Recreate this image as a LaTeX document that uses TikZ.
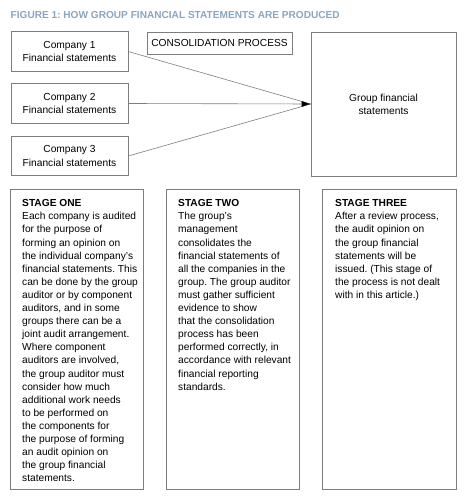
\documentclass[tikz,border=0pt]{standalone}
\usepackage{fontspec}
\setmainfont{Liberation Sans}
\usetikzlibrary{arrows.meta}
\definecolor{titleblue}{RGB}{138,165,190}
\definecolor{boxgray}{RGB}{125,125,125}
\frenchspacing

\begin{document}
\begin{tikzpicture}[x=1pt,y=1pt,yscale=-1,
	every node/.style={font=\fontsize{10.2}{13.1}\selectfont},
	box/.style={draw=boxgray,line width=0.6pt,inner sep=0pt},
	link/.style={draw=boxgray,line width=0.6pt},
	stagetext/.style={anchor=north west,inner sep=0pt,align=left}]

	\useasboundingbox (0,0) rectangle (465,500);

	\node (title) [anchor=west,inner sep=0pt,text=titleblue,font=\fontsize{10.1}{12}\selectfont\bfseries] at (10.5,15) {FIGURE 1: HOW GROUP FINANCIAL STATEMENTS ARE PRODUCED};

	\node (c1) [box,minimum width=117,minimum height=39.5,align=center] at (69.5,51.5) {Company 1\\Financial statements};
	\node (c2) [box,minimum width=117,minimum height=39.5,align=center] at (69.5,103.5) {Company 2\\Financial statements};
	\node (c3) [box,minimum width=117,minimum height=39.5,align=center] at (69.5,156) {Company 3\\Financial statements};
	\node (cons) [box,minimum width=145,minimum height=22] at (219.5,43) {CONSOLIDATION PROCESS};
	\node (group) [box,minimum width=145,minimum height=144,align=center] at (383.5,104) {Group financial\\statements};

	\draw [link] (c1.east) -- (group.west);
	\draw [link] (c3.east) -- (group.west);
	\draw [link,-{Latex[length=9pt,width=6pt,color=black]}] (c2.east) -- (group.west);

	\node (s1) [box,minimum width=133,minimum height=300] at (76.5,339) {};
	\node (s2) [box,minimum width=133,minimum height=300] at (232.5,339) {};
	\node (s3) [box,minimum width=134,minimum height=300] at (389,339) {};

	\node (t1) [stagetext] at (22,199.4) {\textbf{STAGE ONE}\\Each company is audited\\for the purpose of\\forming an opinion on\\the individual company's\\financial statements. This\\can be done by the group\\auditor or by component\\auditors, and in some\\groups there can be a\\joint audit arrangement.\\Where component\\auditors are involved,\\the group auditor must\\consider how much\\additional work needs\\to be performed on\\the components for\\the purpose of forming\\an audit opinion on\\the group financial\\statements.};
	\node (t2) [stagetext] at (178,199.4) {\textbf{STAGE TWO}\\The group's\\management\\consolidates the\\financial statements of\\all the companies in the\\group. The group auditor\\must gather sufficient\\evidence to show\\that the consolidation\\process has been\\performed correctly, in\\accordance with relevant\\financial reporting\\standards.};
	\node (t3) [stagetext] at (335,199.4) {\textbf{STAGE THREE}\\After a review process,\\the audit opinion on\\the group financial\\statements will be\\issued. (This stage of\\the process is not dealt\\with in this article.)};

\end{tikzpicture}
\end{document}
